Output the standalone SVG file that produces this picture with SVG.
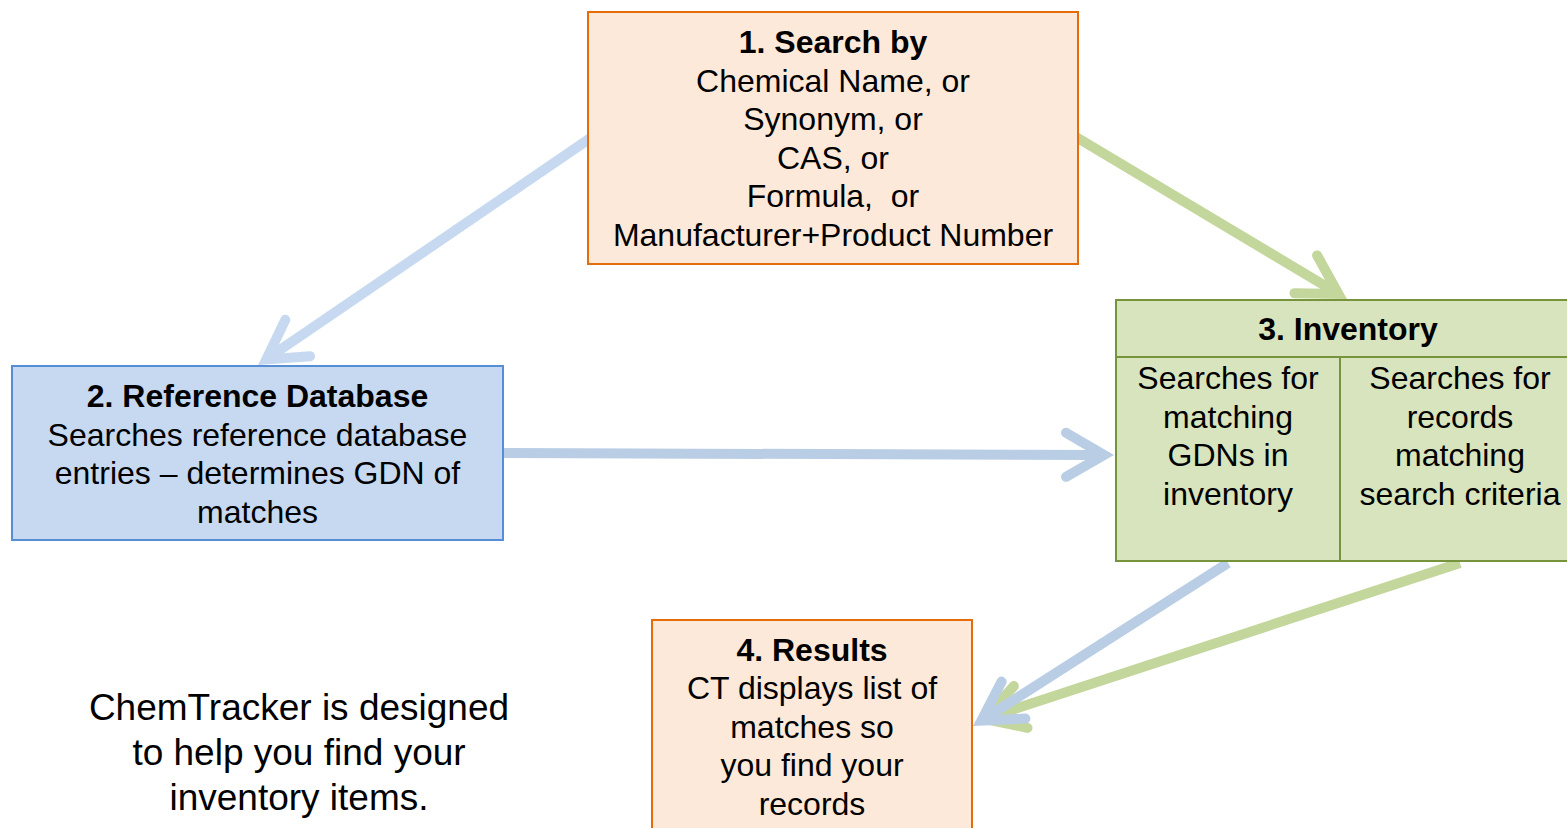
<svg xmlns="http://www.w3.org/2000/svg" width="1567" height="828" viewBox="0 0 1567 828">
<style>
  text { font-family: "Liberation Sans", Arial, sans-serif; font-size: 32px; fill: #000; text-anchor: middle; }
  .b { font-weight: bold; }
  .big { font-size: 37px; }
  .orange { fill: #FDE9D9; stroke: #E46C0A; stroke-width: 2; }
  .blue { fill: #C6D9F1; stroke: #558ED5; stroke-width: 2; }
  .green { fill: #D7E4BD; stroke: #77933C; stroke-width: 2; }
  .gline { stroke: #77933C; stroke-width: 2; fill: none; }
  .conn { fill: none; stroke-width: 10; }
  .head { fill: none; stroke-width: 10; stroke-linecap: round; stroke-linejoin: miter; stroke-miterlimit: 4; }
  .c-lb { stroke: #C6D9F1; }
  .c-b { stroke: #B9CDE5; }
  .c-g { stroke: #C3D69B; }
</style>
<rect width="1567" height="828" fill="#FFFFFF"/>
<g id="connectors">
  <g id="edge-1-2">
    <line class="conn c-lb" x1="592" y1="137" x2="267.9" y2="358.2"/>
    <path class="head c-lb" d="M285.3,319.8 L266.3,359.4 L310.1,356.2"/>
  </g>
  <g id="edge-1-3">
    <line class="conn c-g" x1="1076" y1="137" x2="1336.7" y2="292.8"/>
    <path class="head c-g" d="M1317.1,255.4 L1338.4,293.9 L1294.5,293.2"/>
  </g>
  <g id="edge-2-3">
    <line class="conn c-b" x1="500" y1="453" x2="1102" y2="455"/>
    <path class="head c-b" d="M1066,432.8 L1104,455 L1066,476.8"/>
  </g>
  <g id="edge-3b-4">
    <line class="conn c-g" x1="1460" y1="563" x2="986.4" y2="718.3"/>
    <path class="head c-g" d="M1013.8,686.1 L984.5,718.9 L1027.5,727.9"/>
  </g>
  <g id="edge-3a-4">
    <line class="conn c-b" x1="1228" y1="563" x2="983.1" y2="719.5"/>
    <path class="head c-b" d="M1001.6,681.6 L981.4,720.6 L1025.4,718.6"/>
  </g>
</g>
<g id="node1">
  <rect class="orange" x="588" y="12" width="490" height="252"/>
  <text class="b" x="833" y="53">1. Search by</text>
  <text x="833" y="91.5">Chemical Name, or</text>
  <text x="833" y="130">Synonym, or</text>
  <text x="833" y="168.5">CAS, or</text>
  <text x="833" y="207" xml:space="preserve">Formula,  or</text>
  <text x="833" y="245.5">Manufacturer+Product Number</text>
</g>
<g id="node2">
  <rect class="blue" x="12" y="366" width="491" height="174"/>
  <text class="b" x="257.5" y="407">2. Reference Database</text>
  <text x="257.5" y="445.5">Searches reference database</text>
  <text x="257.5" y="484">entries – determines GDN of</text>
  <text x="257.5" y="522.5">matches</text>
</g>
<g id="node3">
  <rect class="green" x="1116" y="300" width="465" height="261"/>
  <line class="gline" x1="1116" y1="357" x2="1581" y2="357"/>
  <line class="gline" x1="1340" y1="357" x2="1340" y2="561"/>
  <text class="b" x="1348" y="340">3. Inventory</text>
  <text x="1228" y="389">Searches for</text>
  <text x="1228" y="427.5">matching</text>
  <text x="1228" y="466">GDNs in</text>
  <text x="1228" y="504.5">inventory</text>
  <text x="1460" y="389">Searches for</text>
  <text x="1460" y="427.5">records</text>
  <text x="1460" y="466">matching</text>
  <text x="1460" y="504.5">search criteria</text>
</g>
<g id="node4">
  <rect class="orange" x="652" y="620" width="320" height="230"/>
  <text class="b" x="812" y="661">4. Results</text>
  <text x="812" y="699">CT displays list of</text>
  <text x="812" y="737.5">matches so</text>
  <text x="812" y="776">you find your</text>
  <text x="812" y="814.5">records</text>
</g>
<g id="caption">
  <text class="big" x="299" y="720">ChemTracker is designed</text>
  <text class="big" x="299" y="765">to help you find your</text>
  <text class="big" x="299" y="810">inventory items.</text>
</g>
</svg>
